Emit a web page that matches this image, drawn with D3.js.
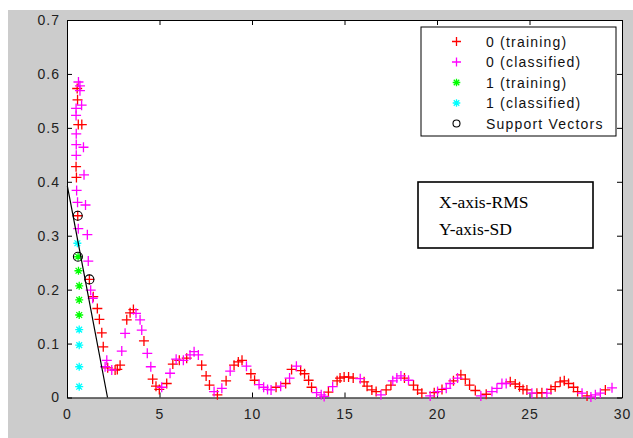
<!DOCTYPE html>
<html lang="en">
<head>
    <meta charset="UTF-8">
    <title>SVM classification RMS vs SD</title>
    <script src="https://d3js.org/d3.v7.min.js"></script>
    <style>
        body { margin: 0; background: #fff; }
        .tick text { font: 14px "Liberation Sans", Arial, sans-serif; letter-spacing: 1px; fill: #222; }
        .tick line, .domain { stroke: #000; }
        .legend text { font: 14px "Liberation Sans", Arial, sans-serif; letter-spacing: 1.2px; fill: #111; }
        .note text { font: 17.5px "Liberation Serif", "Times New Roman", serif; fill: #000; }
    </style>
</head>
<body>
    <div id="chart"></div>

    <script>
        // data: [RMS, SD]
        const class0Train = [[0.55,0.573],[0.57,0.552],[0.61,0.506],[0.80,0.506],[0.49,0.428],[0.51,0.408],[0.58,0.337],[1.21,0.219],[1.42,0.187],[1.64,0.165],[1.75,0.145],[1.88,0.120],[1.96,0.094],[2.20,0.055],[2.60,0.051],[2.72,0.052],[2.87,0.060],[3.23,0.144],[3.41,0.157],[3.59,0.163],[4.16,0.105],[4.63,0.034],[4.81,0.021],[4.99,0.015],[5.39,0.026],[5.72,0.062],[6.07,0.069],[6.47,0.073],[7.28,0.060],[7.52,0.040],[7.70,0.023],[8.13,0.005],[8.60,0.031],[9.03,0.060],[9.26,0.066],[9.46,0.069],[9.94,0.044],[10.14,0.032],[11.30,0.019],[11.82,0.026],[12.14,0.052],[12.63,0.050],[12.84,0.044],[13.06,0.032],[13.22,0.019],[14.13,0.010],[14.60,0.031],[14.76,0.036],[14.98,0.038],[15.22,0.038],[15.47,0.036],[16.06,0.029],[16.22,0.021],[16.48,0.014],[16.71,0.011],[17.25,0.014],[17.51,0.023],[18.24,0.036],[18.73,0.023],[18.95,0.014],[19.18,0.008],[19.85,0.009],[20.27,0.015],[20.89,0.031],[21.29,0.042],[21.53,0.034],[21.76,0.023],[22.07,0.013],[22.66,0.006],[23.96,0.029],[24.23,0.025],[24.46,0.020],[24.65,0.015],[24.86,0.014],[25.40,0.008],[25.67,0.009],[26.16,0.015],[26.39,0.020],[26.66,0.029],[26.88,0.031],[27.11,0.026],[27.38,0.019],[27.60,0.011],[28.11,0.003],[29.10,0.014]];
        const class0Test = [[0.62,0.585],[0.70,0.578],[0.70,0.569],[0.79,0.542],[0.49,0.536],[0.49,0.523],[0.50,0.489],[0.50,0.469],[0.89,0.464],[0.50,0.449],[0.92,0.413],[0.52,0.384],[0.57,0.362],[1.00,0.357],[0.61,0.313],[1.10,0.302],[1.15,0.253],[1.28,0.199],[1.39,0.184],[2.15,0.069],[2.06,0.057],[2.42,0.051],[2.96,0.086],[3.14,0.119],[3.73,0.156],[3.95,0.144],[4.04,0.125],[4.34,0.082],[4.53,0.057],[5.12,0.019],[5.57,0.045],[5.90,0.071],[6.29,0.069],[6.65,0.079],[6.87,0.085],[7.10,0.079],[7.95,0.011],[8.37,0.017],[8.82,0.049],[9.70,0.058],[10.38,0.024],[10.63,0.019],[10.84,0.015],[11.03,0.014],[11.55,0.021],[12.03,0.036],[12.40,0.058],[13.49,0.009],[13.74,0.005],[13.90,0.002],[14.36,0.020],[15.85,0.035],[16.97,0.005],[17.61,0.031],[17.83,0.036],[18.05,0.040],[18.46,0.032],[19.63,0.003],[20.03,0.011],[20.50,0.017],[20.71,0.026],[21.11,0.036],[22.37,0.003],[22.97,0.011],[23.24,0.017],[23.51,0.026],[23.74,0.026],[25.13,0.008],[25.94,0.008],[27.84,0.008],[28.32,0.001],[28.56,0.005],[28.83,0.008],[29.46,0.018]];
        const class1Train = [[0.60,0.261],[0.62,0.235],[0.66,0.207],[0.66,0.181],[0.66,0.153]];
        const class1Test = [[0.56,0.286],[0.66,0.126],[0.66,0.097],[0.66,0.057],[0.66,0.020]];
        const supportVectors = [[0.58,0.337],[0.59,0.261],[1.21,0.219]];
        const boundary = [[0.02,0.392],[0.2,0.36],[2.19,0]];
        const xTicks = [0, 5, 10, 15, 20, 25, 30];
        const yTicks = [0, 0.1, 0.2, 0.3, 0.4, 0.5, 0.6, 0.7];
        const legendLabels = ["0 (training)", "0 (classified)", "1 (training)", "1 (classified)", "Support Vectors"];
        const noteLines = ["X-axis-RMS", "Y-axis-SD"];

        const width = 633, height = 438;
        const margin = {top: 20, right: 11, bottom: 40.5, left: 67};
        const w = width - margin.left - margin.right;
        const h = height - margin.top - margin.bottom;

        const svg = d3.select("#chart").append("svg")
            .attr("width", width)
            .attr("height", height);

        // grey figure background
        svg.append("rect").attr("x", 8).attr("y", 10)
            .attr("width", width - 8).attr("height", height - 10)
            .attr("fill", "#cccccc");

        const g = svg.append("g")
            .attr("transform", "translate(" + margin.left + "," + margin.top + ")");

        g.append("rect").attr("width", w).attr("height", h).attr("fill", "#fff");

        const x = d3.scaleLinear().domain([0, 30]).range([0, w]);
        const y = d3.scaleLinear().domain([0, 0.7]).range([h, 0]);

        // axes with inward ticks on all sides
        g.append("g").attr("transform", "translate(0," + h + ")")
            .call(d3.axisBottom(x).tickValues(xTicks).tickSizeInner(-5).tickSizeOuter(0).tickPadding(8))
            .call(a => a.selectAll("text").attr("dy", "0.95em"));
        g.append("g")
            .call(d3.axisLeft(y).tickValues(yTicks).tickSizeInner(-5).tickSizeOuter(0).tickPadding(7)
                .tickFormat(d => d === 0 ? "0" : d3.format(".1f")(d)));
        g.append("g")
            .call(d3.axisTop(x).tickValues(xTicks).tickSizeInner(-5).tickSizeOuter(0).tickFormat(""));
        g.append("g").attr("transform", "translate(" + w + ",0)")
            .call(d3.axisRight(y).tickValues(yTicks).tickSizeInner(-5).tickSizeOuter(0).tickFormat(""));
        g.selectAll(".domain").attr("stroke", "#000");

        // marker helpers
        function plus(sel, color, s) {
            sel.append("path")
                .attr("d", "M" + (-s) + ",0H" + s + "M0," + (-s) + "V" + s)
                .attr("stroke", color).attr("stroke-width", 1.3).attr("fill", "none");
        }
        function star(sel, color, s) {
            const d = s * 0.72;
            sel.append("path")
                .attr("d", "M" + (-s) + ",0H" + s + "M0," + (-s) + "V" + s +
                    "M" + (-d) + "," + (-d) + "L" + d + "," + d + "M" + (-d) + "," + d + "L" + d + "," + (-d))
                .attr("stroke", color).attr("stroke-width", 1.3).attr("fill", "none");
        }
        function drawSeries(data, kind, color, s) {
            const pts = g.append("g").selectAll("g").data(data).enter().append("g")
                .attr("transform", d => "translate(" + x(d[0]) + "," + y(d[1]) + ")");
            if (kind === "plus") plus(pts, color, s); else star(pts, color, s);
        }

        drawSeries(class0Train, "plus", "#ff0000", 5);
        drawSeries(class0Test, "plus", "#ff00ff", 5);
        drawSeries(class1Train, "star", "#00ff00", 4);
        drawSeries(class1Test, "star", "#00ffff", 4);

        g.append("g").selectAll("circle").data(supportVectors).enter().append("circle")
            .attr("cx", d => x(d[0])).attr("cy", d => y(d[1])).attr("r", 4.5)
            .attr("fill", "none").attr("stroke", "#000").attr("stroke-width", 1.1);

        g.append("path").datum(boundary)
            .attr("d", d3.line().x(d => x(d[0])).y(d => y(d[1])))
            .attr("fill", "none").attr("stroke", "#000").attr("stroke-width", 1.2);

        // legend
        const legend = svg.append("g").attr("class", "legend");
        legend.append("rect").attr("x", 421).attr("y", 27).attr("width", 195).attr("height", 109)
            .attr("fill", "#fff").attr("stroke", "#000");
        const legendColors = ["#ff0000", "#ff00ff", "#00ff00", "#00ffff", "#000"];
        legendLabels.forEach(function(label, i) {
            const cy = 41.5 + i * 20.5;
            const item = legend.append("g").attr("transform", "translate(456.5," + cy + ")");
            if (i < 2) plus(item, legendColors[i], 4.5);
            else if (i < 4) star(item, legendColors[i], 3.8);
            else item.append("circle").attr("r", 3.5).attr("fill", "none").attr("stroke", "#000").attr("stroke-width", 1.1);
            legend.append("text").attr("x", 486).attr("y", cy).attr("dy", "0.36em").text(label);
        });

        // annotation box
        const note = svg.append("g").attr("class", "note");
        note.append("rect").attr("x", 418).attr("y", 182).attr("width", 175).attr("height", 66)
            .attr("fill", "#fff").attr("stroke", "#000").attr("stroke-width", 1.6);
        noteLines.forEach(function(t, i) {
            note.append("text").attr("x", 439).attr("y", 208 + i * 27).text(t);
        });
    </script>
</body>
</html>
